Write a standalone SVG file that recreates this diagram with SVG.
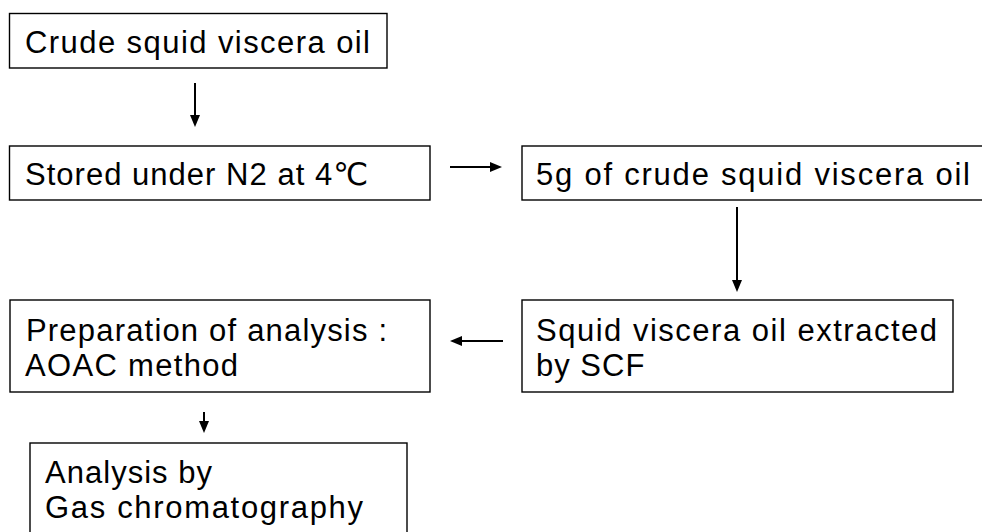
<svg xmlns="http://www.w3.org/2000/svg" width="982" height="532" viewBox="0 0 982 532">
  <defs>
    <marker id="ah" viewBox="0 0 12 10" refX="4" refY="5" markerWidth="12" markerHeight="10" markerUnits="userSpaceOnUse" orient="auto">
      <path d="M0,0 L12,5 L0,10 Z" fill="#000"/>
    </marker>
    <style>
      .box { fill: #fff; stroke: #000; stroke-width: 1.4; }
      .lbl { font-family: "Liberation Sans", "DejaVu Sans", "Noto Sans CJK KR", sans-serif; font-size: 31px; fill: #000; }
      .conn { stroke: #000; stroke-width: 2; fill: none; marker-end: url(#ah); }
    </style>
  </defs>
  <rect width="982" height="532" fill="#fff"/>

  <g id="connectors">
    <line class="conn" x1="195" y1="83" x2="195" y2="119"/>
    <line class="conn" x1="450" y1="167" x2="494" y2="167"/>
    <line class="conn" x1="737" y1="207" x2="737" y2="284"/>
    <line class="conn" x1="503" y1="341" x2="458" y2="341"/>
    <line class="conn" x1="204" y1="412" x2="204" y2="425"/>
  </g>

  <g id="crude-oil">
    <rect class="box" x="9.5" y="13.5" width="377.5" height="54.5"/>
    <text class="lbl" x="25" y="53" textLength="345" lengthAdjust="spacing">Crude squid viscera oil</text>
  </g>

  <g id="stored">
    <rect class="box" x="9.5" y="146" width="420.5" height="54"/>
    <text class="lbl" x="25" y="185" textLength="343" lengthAdjust="spacing">Stored under N2 at 4℃</text>
  </g>

  <g id="five-gram">
    <rect class="box" x="522" y="146" width="470" height="54"/>
    <text class="lbl" x="536" y="185" textLength="434" lengthAdjust="spacing">5g of crude squid viscera oil</text>
  </g>

  <g id="extracted">
    <rect class="box" x="522" y="300" width="431" height="92"/>
    <text class="lbl" x="536" y="341" textLength="401" lengthAdjust="spacing">Squid viscera oil extracted</text>
    <text class="lbl" x="536" y="376" letter-spacing="1">by SCF</text>
  </g>

  <g id="preparation">
    <rect class="box" x="10" y="300" width="420" height="92"/>
    <text class="lbl" x="26" y="341" textLength="361" lengthAdjust="spacing">Preparation of analysis :</text>
    <text class="lbl" x="25" y="376" textLength="213" lengthAdjust="spacing">AOAC method</text>
  </g>

  <g id="analysis">
    <rect class="box" x="30" y="443" width="377" height="100"/>
    <text class="lbl" x="45" y="483" textLength="167" lengthAdjust="spacing">Analysis by</text>
    <text class="lbl" x="45" y="518" textLength="318" lengthAdjust="spacing">Gas chromatography</text>
  </g>
</svg>
